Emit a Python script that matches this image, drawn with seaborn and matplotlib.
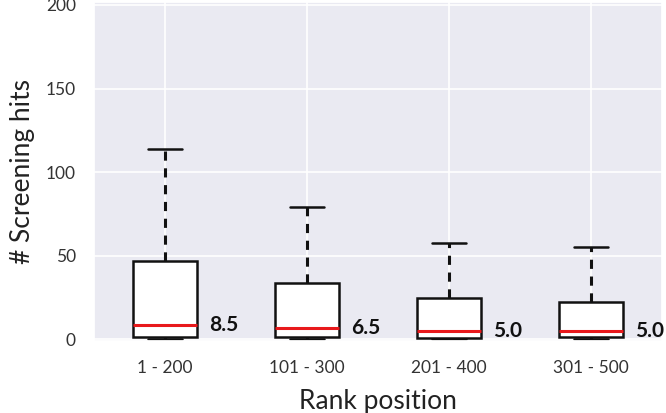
import matplotlib
matplotlib.use("Agg")
import matplotlib.pyplot as plt
import seaborn as sns

# values
categories = ['1 - 200', '101 - 300', '201 - 400', '301 - 500']
medians = [8.5, 6.5, 5.0, 5.0]
q1 = [1.0, 1.0, 0.5, 1.0]
q3 = [47.0, 33.5, 24.5, 22.0]
whislo = [0.0, 0.0, 0.0, 0.0]
whishi = [114.0, 79.0, 57.5, 55.0]

sns.set_theme(style='darkgrid')
plt.rcParams['font.family'] = ['Lato', 'DejaVu Sans']

fig = plt.figure(figsize=[6.66, 4.13], dpi=100)
ax = fig.add_axes([0.141, 0.175, 0.853, 0.821])

stats = [
    dict(label=c, med=m, q1=a, q3=b, whislo=lo, whishi=hi, fliers=[])
    for c, m, a, b, lo, hi in zip(categories, medians, q1, q3, whislo, whishi)
]
ax.bxp(
    stats,
    positions=range(len(categories)),
    widths=0.45,
    patch_artist=True,
    boxprops=dict(facecolor='white', edgecolor='#111111', linewidth=1.8),
    medianprops=dict(color='#e8191c', linewidth=2.2),
    whiskerprops=dict(color='#111111', linewidth=2.2, linestyle=(0, (3, 2.5))),
    capprops=dict(color='#111111', linewidth=1.8),
    capwidths=0.24,
)

# median labels
for x, m in enumerate(medians):
    ax.text(x + 0.31, m, f'{m:.1f}', fontsize=15, fontweight='bold',
            va='center', ha='left', color='#111111')

ax.set_xlim(-0.5, len(categories) - 0.5)
ax.set_ylim(-1, 202)
ax.set_yticks([0, 50, 100, 150, 200])
ax.set_xticks(range(len(categories)))
ax.set_xticklabels(categories)
ax.tick_params(axis='both', length=0)
ax.tick_params(axis='y', labelsize=12.5, pad=13, colors='#333333')
ax.tick_params(axis='x', labelsize=12.5, pad=14, colors='#333333')
ax.grid(color='white', linewidth=1.2)

ax.set_xlabel('Rank position', fontsize=19, color='#222222', labelpad=9)
ax.set_ylabel('# Screening hits', fontsize=19, color='#222222', labelpad=8)

fig.savefig('out.png', dpi=100)
